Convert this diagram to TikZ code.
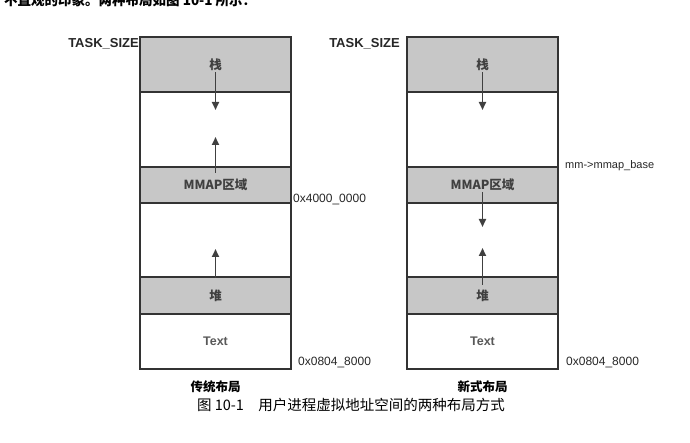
\documentclass[tikz,border=0pt]{standalone}
\usepackage{fontspec}
\setmainfont{Liberation Sans}
\newfontfamily\cjk{Noto Sans CJK SC}
\usetikzlibrary{arrows.meta,positioning,calc}

\tikzset{
  seg/.style={draw=black!80,line width=1.3pt,minimum width=151pt,inner sep=0pt,outer sep=0pt,font=\cjk\bfseries\fontsize{12.5}{14}\selectfont,text=black!75},
  segfill/.style={seg,fill=black!22},
  growarrow/.style={-{Triangle[length=8pt,width=7pt]},line width=1.9pt,draw=black!75},
  addr/.style={font=\fontsize{12}{14}\selectfont,text=black!85,inner sep=0pt},
  tag/.style={font=\bfseries\fontsize{13}{15}\selectfont,text=black!85,inner sep=0pt}
}

\begin{document}
\begin{tikzpicture}[x=1pt,y=-1pt]
  \useasboundingbox (0,0) rectangle (690,443);
  % linea del texto de arriba (cortada)
  \node[anchor=west,font=\cjk\bfseries\fontsize{13.5}{15}\selectfont,inner sep=0pt] (prev) at (4,0) {不直观的印象。两种布局如图 10-1 所示：};
  % disposicion tradicional
  \node[segfill,minimum height=55pt] (tstack) at (215.5,64.5) {栈};
  \node[seg,minimum height=75pt,below=0pt of tstack] (tgap1) {};
  \node[segfill,minimum height=36pt,below=0pt of tgap1] (tmmap) {MMAP区域};
  \node[seg,minimum height=74pt,below=0pt of tmmap] (tgap2) {};
  \node[segfill,minimum height=37pt,below=0pt of tgap2] (theap) {堆};
  \node[seg,minimum height=55pt,below=0pt of theap,font=\bfseries\fontsize{12.5}{14}\selectfont,text=black!65] (ttext) {Text};
  \draw[growarrow] ([yshift=-8pt]tstack.center) -- ([yshift=-18pt]tstack.south);
  \draw[growarrow] ([yshift=-6pt]tmmap.north) -- ([yshift=30pt]tmmap.north);
  \draw[growarrow] ([yshift=-1pt]theap.north) -- ([yshift=28pt]theap.north);
  \node[tag,anchor=east] (tsize) at ([xshift=-1pt,yshift=-7pt]tstack.north west) {TASK\_SIZE};
  \node[addr,anchor=west] (tmid) at ([xshift=2pt,yshift=3pt]tmmap.south east) {0x4000\_0000};
  \node[addr,anchor=west] (tlow) at ([xshift=7pt,yshift=6pt]ttext.south east) {0x0804\_8000};
  \node[font=\cjk\bfseries\fontsize{12.5}{14}\selectfont,below=8pt of ttext] (tname) {传统布局};
  % disposicion nueva
  \node[segfill,minimum height=55pt] (nstack) at (482.5,64.5) {栈};
  \node[seg,minimum height=75pt,below=0pt of nstack] (ngap1) {};
  \node[segfill,minimum height=36pt,below=0pt of ngap1] (nmmap) {MMAP区域};
  \node[seg,minimum height=74pt,below=0pt of nmmap] (ngap2) {};
  \node[segfill,minimum height=37pt,below=0pt of ngap2] (nheap) {堆};
  \node[seg,minimum height=55pt,below=0pt of nheap,font=\bfseries\fontsize{12.5}{14}\selectfont,text=black!65] (ntext) {Text};
  \draw[growarrow] ([yshift=-8pt]nstack.center) -- ([yshift=-18pt]nstack.south);
  \draw[growarrow] ([yshift=-7pt]nmmap.center) -- ([yshift=-24pt]nmmap.south);
  \draw[growarrow] ([yshift=-8pt]nheap.north) -- ([yshift=29pt]nheap.north);
  \node[tag,anchor=east] (nsize) at ([xshift=-7pt,yshift=-7pt]nstack.north west) {TASK\_SIZE};
  \node[addr,anchor=west,font=\fontsize{11}{13}\selectfont] (nbase) at ([xshift=7pt,yshift=1pt]nmmap.north east) {mm->mmap\_base};
  \node[addr,anchor=west] (nlow) at ([xshift=8pt,yshift=6pt]ntext.south east) {0x0804\_8000};
  \node[font=\cjk\bfseries\fontsize{12.5}{14}\selectfont,below=8pt of ntext] (nname) {新式布局};
  % pie de figura
  \node[font=\cjk\fontsize{14.5}{16}\selectfont,inner sep=0pt] (cap) at (351,405) {图 10-1\quad 用户进程虚拟地址空间的两种布局方式};
\end{tikzpicture}
\end{document}
